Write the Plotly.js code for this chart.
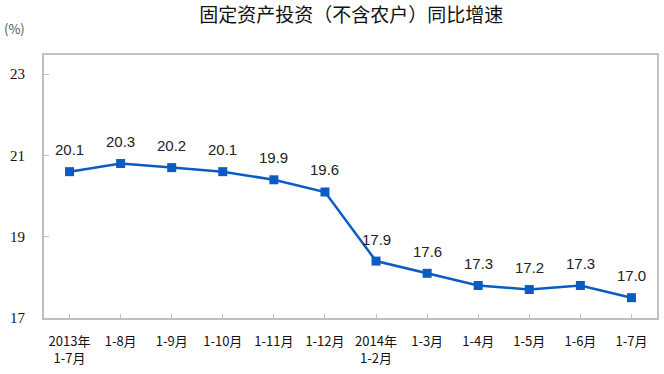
<!DOCTYPE html>
<html>
<head>
<meta charset="utf-8">
<script src="https://cdn.plot.ly/plotly-3.0.1.min.js"></script>
<style>html,body{margin:0;padding:0;background:#fff;}#chart{width:664px;height:374px;}</style>
</head>
<body>
<div id="chart"></div>
<script>
var categories = ['2013年<br>1-7月','1-8月','1-9月','1-10月','1-11月','1-12月','2014年<br>1-2月','1-3月','1-4月','1-5月','1-6月','1-7月'];
var growth = [20.1, 20.3, 20.2, 20.1, 19.9, 19.6, 17.9, 17.6, 17.3, 17.2, 17.3, 17.0];
var labels = ['20.1','20.3','20.2','20.1','19.9','19.6','17.9','17.6','17.3','17.2','17.3','17.0'];
// the original chart's axis is drawn 0.5 below the labelled values
var tickVals = [16.5, 18.5, 20.5, 22.5];
var tickText = ['17','19','21','23'];

var idx = categories.map(function(_, i){ return i; });

var trace = {
  x: idx, y: growth, type: 'scatter', mode: 'lines+markers',
  line: {color: '#0b5cc2', width: 2.5},
  marker: {symbol: 'square', size: 9, color: '#0b5cc2'},
  hoverinfo: 'none'
};

var annotations = idx.map(function(i){
  return {x: i, y: growth[i], xref: 'x', yref: 'y', text: labels[i], showarrow: false,
    yshift: 22, font: {family: 'Liberation Sans, Arial, sans-serif', size: 15, color: '#222'}};
});
annotations.push({xref: 'paper', yref: 'paper', x: -0.068, y: 1.1, xanchor: 'left', yanchor: 'middle',
  text: '(%)', showarrow: false, font: {family: 'Noto Sans CJK SC, sans-serif', size: 13, color: '#555'}});

var layout = {
  width: 664, height: 374,
  margin: {l: 44, r: 7, t: 55, b: 56},
  paper_bgcolor: '#fff', plot_bgcolor: '#fff',
  showlegend: false,
  title: {text: '固定资产投资（不含农户）同比增速', x: 0.529, xanchor: 'center', y: 0.96, yanchor: 'middle',
    font: {family: 'Noto Sans CJK SC, sans-serif', size: 19, color: '#111'}},
  xaxis: {
    range: [-0.5, 11.5], tickvals: idx, ticktext: categories, tickson: 'boundaries',
    ticks: 'inside', ticklen: 4, tickcolor: '#bfbfbf', tickwidth: 1,
    showgrid: false, zeroline: false,
    showline: true, linecolor: '#bfbfbf', linewidth: 2, mirror: true,
    ticklabelstandoff: 10,
    tickfont: {family: 'Noto Sans CJK SC, sans-serif', size: 13, color: '#111'},
    tickangle: 0
  },
  yaxis: {
    range: [16.5, 22.97], tickvals: tickVals, ticktext: tickText,
    ticks: 'inside', ticklen: 5, tickcolor: '#bfbfbf', tickwidth: 1,
    showgrid: false, zeroline: false,
    showline: true, linecolor: '#bfbfbf', linewidth: 2, mirror: true,
    ticklabelstandoff: 14,
    tickfont: {family: '"Liberation Serif", "Times New Roman", serif', size: 15, color: '#111'}
  },
  annotations: annotations
};

Plotly.newPlot('chart', [trace], layout, {displayModeBar: false, staticPlot: true});
</script>
</body>
</html>
